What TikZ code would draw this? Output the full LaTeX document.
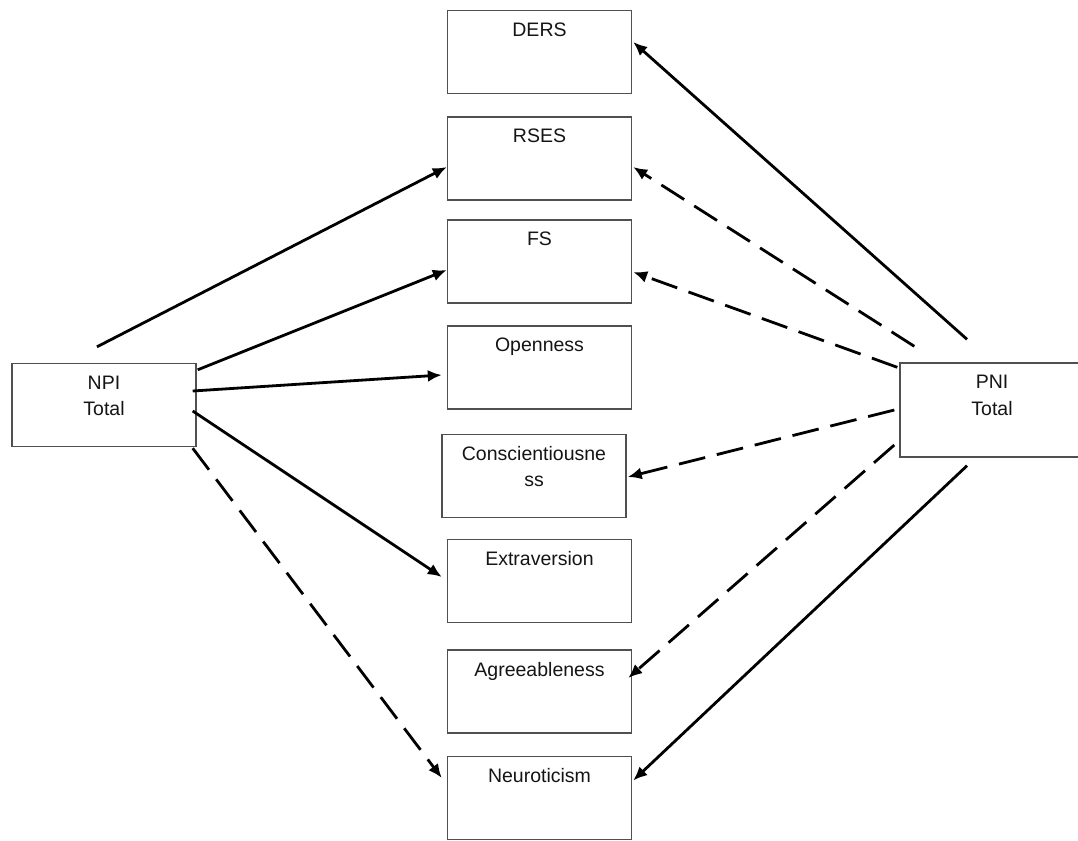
\documentclass[tikz,border=0pt]{standalone}
\usepackage{fontspec}
\setmainfont{Liberation Sans}
\usetikzlibrary{arrows.meta}
\definecolor{boxline}{HTML}{505050}
\definecolor{txtcol}{HTML}{151515}
\tikzset{
  box/.style={draw=boxline, line width=1.4pt, minimum width=184pt, minimum height=83pt, inner sep=0pt, fill=white},
  lbl/.style={anchor=north, inner sep=0pt, align=center, text=txtcol, font=\fontsize{19.5}{26.5}\selectfont},
  solidarr/.style={line width=2.8pt, -{Latex[length=14pt,width=12pt]}},
  dasharr/.style={line width=2.8pt, dash pattern=on 27pt off 12pt, -{Latex[length=14pt,width=12pt]}},
}
\begin{document}
\begin{tikzpicture}[x=1pt,y=-1pt]
\useasboundingbox (0,0) rectangle (1078,840);
% middle column
\node[box] (ders)  at (539.5,52)  {};
\node[box] (rses)  at (539.5,158.5) {};
\node[box] (fs)    at (539.5,261.5) {};
\node[box] (open)  at (539.5,367.5) {};
\node[box] (consc) at (534,476) {};
\node[box] (extra) at (539.5,581) {};
\node[box] (agree) at (539.5,691.5) {};
\node[box] (neuro) at (539.5,798) {};
% side boxes
\node[box] (npi) at (104,405) {};
\node[box, minimum height=94pt] (pni) at (992,410) {};
% labels
\node[lbl] (dersT)  at ([yshift=-12.5pt]ders.north)  {DERS};
\node[lbl] (rsesT)  at ([yshift=-12.5pt]rses.north)  {RSES};
\node[lbl] (fsT)    at ([yshift=-12.5pt]fs.north)    {FS};
\node[lbl] (openT)  at ([yshift=-12.5pt]open.north)  {Openness};
\node[lbl] (conscT) at ([yshift=-12pt]consc.north) {Conscientiousne\\ss};
\node[lbl] (extraT) at ([yshift=-12.5pt]extra.north) {Extraversion};
\node[lbl] (agreeT) at ([yshift=-12.5pt]agree.north) {Agreeableness};
\node[lbl] (neuroT) at ([yshift=-12.5pt]neuro.north) {Neuroticism};
\node[lbl] (npiT)   at ([yshift=-13pt]npi.north)   {NPI\\Total};
\node[lbl] (pniT)   at ([yshift=-13pt]pni.north)   {PNI\\Total};
% NPI connectors
\draw[solidarr] ([xshift=-7pt,yshift=16pt]npi.north) -- ([yshift=-8.5pt]rses.west);
\draw[solidarr] ([xshift=1pt,yshift=-7pt]npi.north east) -- ([yshift=-8.5pt]fs.west);
\draw[solidarr] ([xshift=-4pt,yshift=14pt]npi.east) -- ([xshift=-5pt,yshift=-7.5pt]open.west);
\draw[solidarr] ([xshift=-4pt,yshift=-6pt]npi.east) -- ([xshift=-5pt,yshift=4pt]extra.west);
\draw[dasharr] ([xshift=-4pt,yshift=-1pt]npi.south east) -- ([xshift=-5pt,yshift=20pt]neuro.west);
% PNI connectors
\draw[solidarr] ([xshift=-25pt,yshift=23pt]pni.north) -- ([xshift=1pt,yshift=10pt]ders.east);
\draw[dasharr] ([xshift=15pt,yshift=16pt]pni.north west) -- ([xshift=1pt,yshift=-8.5pt]rses.east);
\draw[dasharr] ([xshift=-2pt,yshift=-5pt]pni.north west) -- ([xshift=1pt,yshift=-10.5pt]fs.east);
\draw[dasharr] ([xshift=-5pt]pni.west) -- ([xshift=1pt,yshift=-1pt]consc.east);
\draw[dasharr] ([xshift=-5pt,yshift=-35pt]pni.west) -- ([xshift=-4pt,yshift=13.5pt]agree.east);
\draw[solidarr] ([xshift=-25pt,yshift=-8pt]pni.south) -- ([xshift=1pt,yshift=17.5pt]neuro.east);
\end{tikzpicture}
\end{document}
